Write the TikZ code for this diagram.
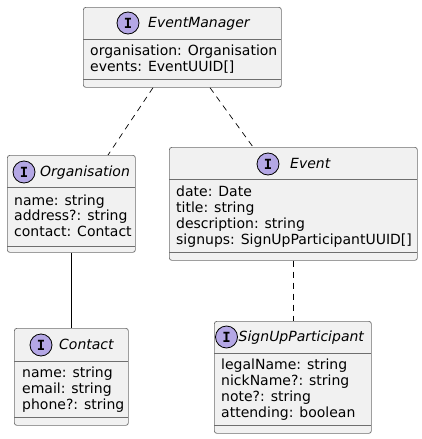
\documentclass[tikz,border=0pt]{standalone}
\usepackage{fontspec}
\setmainfont{DejaVu Sans}
\newfontfamily\iconfont{DejaVu Sans Mono}
\usetikzlibrary{calc}
\definecolor{boxline}{HTML}{6E6E6E}
\definecolor{boxfill}{HTML}{F1F1F1}
\definecolor{iconfill}{HTML}{B4A7E5}
\begin{document}
\begin{tikzpicture}[x=1pt,y=-1pt]
\tikzset{
 cls/.style={draw=boxline, fill=boxfill, line width=0.7pt, rounded corners=2.5pt, inner sep=0pt, anchor=north west},
 sep/.style={draw=boxline, line width=0.7pt},
 icon/.style={circle, draw=black, fill=iconfill, line width=0.8pt, minimum size=22pt, inner sep=0pt, font=\iconfont\bfseries\fontsize{14}{14}\selectfont},
 ttl/.style={anchor=mid west, inner sep=0pt, yshift=-1.5pt, font=\itshape\fontsize{14}{16}\selectfont},
 attr/.style={anchor=mid west, inner sep=0pt, yshift=-2pt, font=\fontsize{14}{16}\selectfont},
 dep/.style={draw=black, line width=0.7pt, dash pattern=on 6pt off 5pt},
 assoc/.style={draw=black, line width=1pt}
}
\useasboundingbox (0,0) rectangle (422,439);
% EventManager
\node[cls, minimum width=198pt, minimum height=80pt] (em) at (83,7) {};
\draw[sep] (83,39) -- (281,39);
\draw[sep] (83,79) -- (281,79);
\node[icon] (emi) at (128,23) {I};
\node[ttl] (emt) at (148,23) {EventManager};
\node[attr] (ema1) at (90,51) {organisation: Organisation};
\node[attr] (ema2) at (90,67) {events: EventUUID[]};
% Organisation
\node[cls, minimum width=128pt, minimum height=97pt] (org) at (7,155) {};
\draw[sep] (7,187) -- (135,187);
\draw[sep] (7,246) -- (135,246);
\node[icon] (orgi) at (24,172) {I};
\node[ttl] (orgt) at (40,172) {Organisation};
\node[attr] (orga1) at (14,201) {name: string};
\node[attr] (orga2) at (14,216) {address?: string};
\node[attr] (orga3) at (14,232) {contact: Contact};
% Event
\node[cls, minimum width=248pt, minimum height=113pt] (ev) at (169,147) {};
\draw[sep] (169,179) -- (417,179);
\draw[sep] (169,252) -- (417,252);
\node[icon] (evi) at (268,164) {I};
\node[ttl] (evt) at (290,164) {Event};
\node[attr] (eva1) at (176,192) {date: Date};
\node[attr] (eva2) at (176,208) {title: string};
\node[attr] (eva3) at (176,224) {description: string};
\node[attr] (eva4) at (176,240) {signups: SignUpParticipantUUID[]};
% Contact
\node[cls, minimum width=114pt, minimum height=97pt] (ct) at (14,328) {};
\draw[sep] (14,361) -- (128,361);
\draw[sep] (14,417) -- (128,417);
\node[icon] (cti) at (41,345) {I};
\node[ttl] (ctt) at (59,345) {Contact};
\node[attr] (cta1) at (22,373) {name: string};
\node[attr] (cta2) at (22,389) {email: string};
\node[attr] (cta3) at (22,405) {phone?: string};
% SignUpParticipant
\node[cls, minimum width=157pt, minimum height=112pt] (su) at (214,321) {};
\draw[sep] (214,353) -- (371,353);
\draw[sep] (214,425) -- (371,425);
\node[icon] (sui) at (226.5,337) {I};
\node[ttl] (sut) at (238.5,337) {SignUpParticipant};
\node[attr] (sua1) at (221,365) {legalName: string};
\node[attr] (sua2) at (221,381) {nickName?: string};
\node[attr] (sua3) at (221,397) {note?: string};
\node[attr] (sua4) at (221,413) {attending: boolean};
% connectors
\draw[dep] ($(em.south west)+(70,0)$) -- ($(org.north west)+(101,0)$);
\draw[dep] ($(em.south west)+(127,0)$) -- ($(ev.north west)+(84,0)$);
\draw[assoc] ($(org.south west)+(64,0)$) -- ($(ct.north west)+(57,0)$);
\draw[dep] ($(ev.south west)+(124,0)$) -- ($(su.north west)+(79,0)$);
\end{tikzpicture}
\end{document}
